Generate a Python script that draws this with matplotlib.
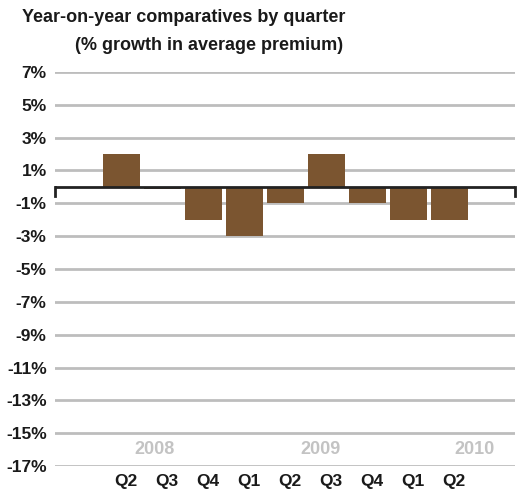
import matplotlib
matplotlib.use("Agg")
import matplotlib.pyplot as plt
from matplotlib.transforms import ScaledTranslation

quarters = ["Q2", "Q3", "Q4", "Q1", "Q2", "Q3", "Q4", "Q1", "Q2"]
growth = [2, -0.1, -2, -3, -1, 2, -1, -2, -2]
years = ["2008", "2009", "2010"]
year_pos = [0.8, 4.85, 8.6]
yticks = [7, 5, 3, 1, -1, -3, -5, -7, -9, -11, -13, -15, -17]

plt.rcParams['font.family'] = ['Liberation Sans', 'DejaVu Sans']

fig = plt.figure(figsize=(5.32, 4.95), dpi=100)
W, H = 532, 495
ax = fig.add_axes([55 / W, (H - 466) / H, (515 - 55) / W, (466 - 72) / H])

x = list(range(len(growth)))
ax.bar(x, growth, width=0.9, color="#7B5530", zorder=2)

ax.set_ylim(-17, 7)
ax.set_xlim(-1.63, 9.6)
ax.set_yticks(yticks)
ax.set_yticklabels([f"{v}%" for v in yticks], fontsize=12.5, fontweight="bold", color="#1a1a1a")
ax.tick_params(axis="y", length=0, pad=6)
ax.set_xticks(x)
ax.set_xticklabels(quarters, fontsize=12.5, fontweight="bold", color="#1a1a1a")
ax.tick_params(axis="x", length=0, pad=6)
off = ScaledTranslation(4 / 100, 0, fig.dpi_scale_trans)
for lab in ax.get_xticklabels():
    lab.set_transform(lab.get_transform() + off)
ax.yaxis.grid(True, color="#BDBDBD", linewidth=2, zorder=0)
ax.set_axisbelow(True)
for s in ax.spines.values():
    s.set_visible(False)

# zero line with end ticks
ax.axhline(0, color="#222222", linewidth=2, zorder=3)
for xe in ax.get_xlim():
    ax.plot([xe, xe], [0, -0.55], color="#222222", linewidth=2, zorder=3, clip_on=False)

for yr, xp in zip(years, year_pos):
    ax.text(xp, -16, yr, ha="center", va="center", fontsize=13, fontweight="bold", color="#C3C3C3")

fig.text(22 / W, 1 - 18 / H, "Year-on-year comparatives by quarter", ha="left", va="center",
         fontsize=13, fontweight="bold", color="#1a1a1a")
fig.text(75 / W, 1 - 45 / H, "(% growth in average premium)", ha="left", va="center",
         fontsize=13, fontweight="bold", color="#1a1a1a")

fig.savefig("out.png", dpi=100)
